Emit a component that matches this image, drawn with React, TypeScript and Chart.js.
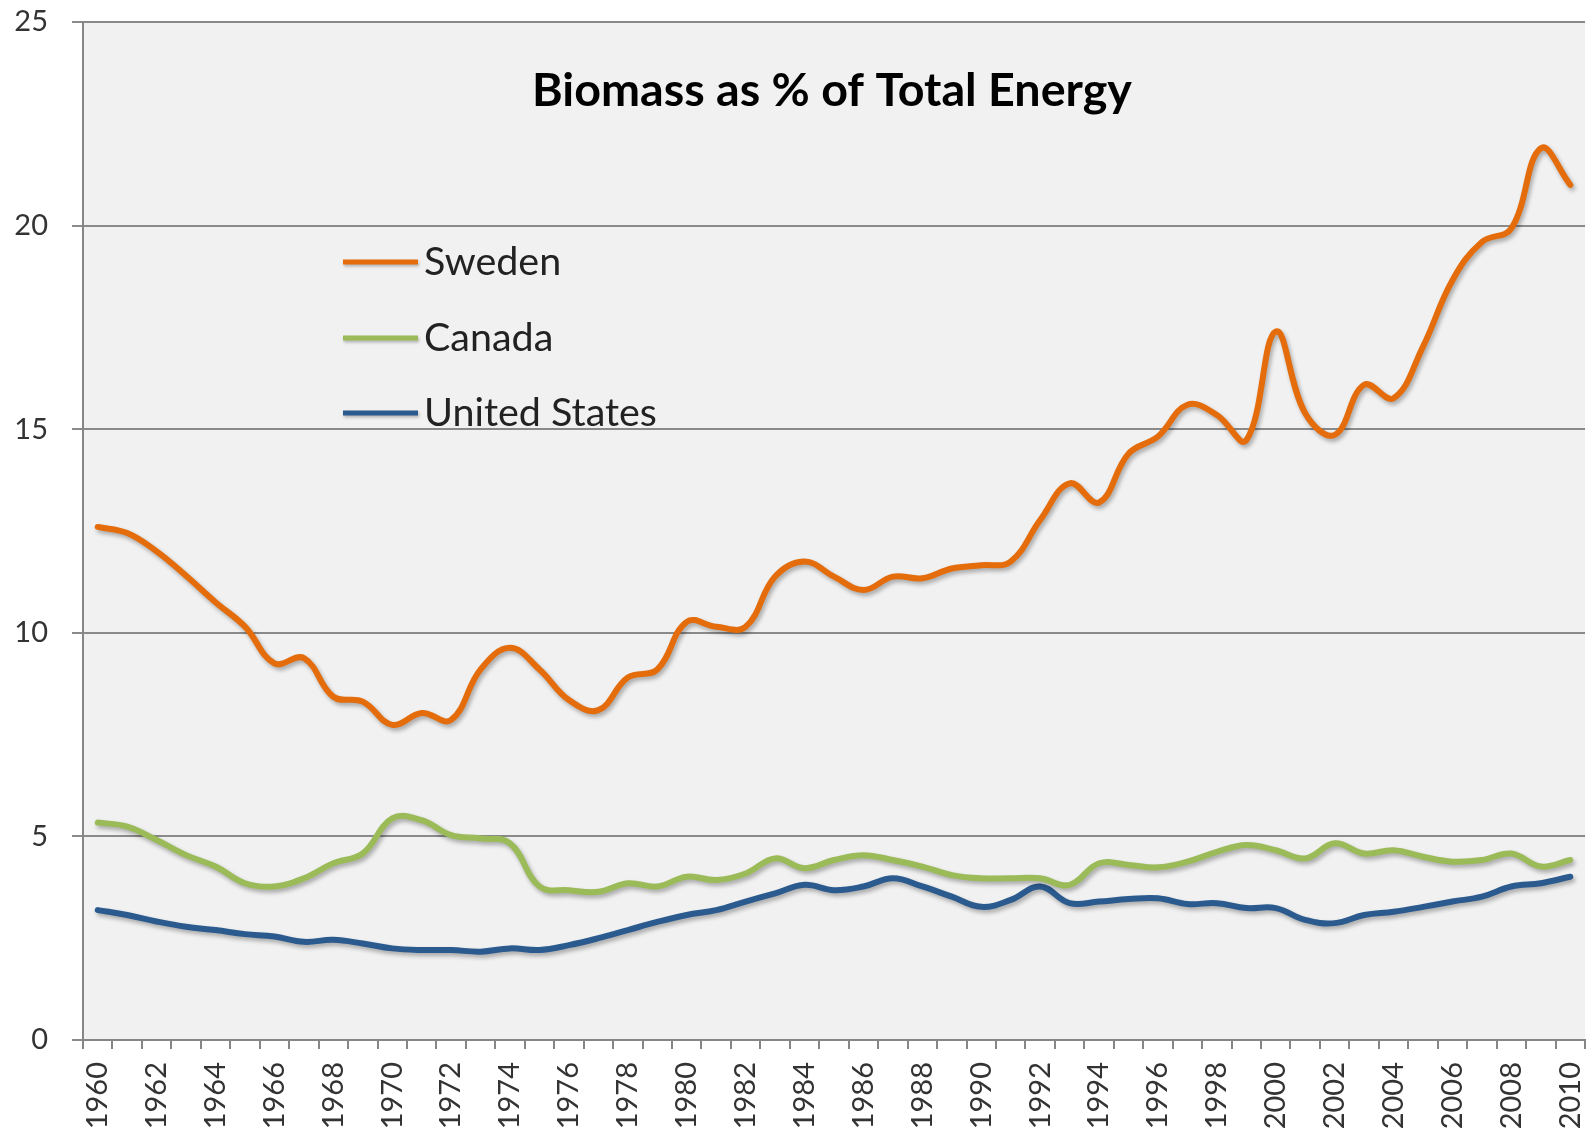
import React, { useEffect, useRef } from 'react';
import { Chart, registerables } from 'chart.js';

Chart.register(...registerables);

const years = [
  '1960', '1961', '1962', '1963', '1964', '1965', '1966', '1967', '1968', '1969',
  '1970', '1971', '1972', '1973', '1974', '1975', '1976', '1977', '1978', '1979',
  '1980', '1981', '1982', '1983', '1984', '1985', '1986', '1987', '1988', '1989',
  '1990', '1991', '1992', '1993', '1994', '1995', '1996', '1997', '1998', '1999',
  '2000', '2001', '2002', '2003', '2004', '2005', '2006', '2007', '2008', '2009',
  '2010',
];

const labelledYears = [
  '1960', '1962', '1964', '1966', '1968', '1970', '1972', '1974', '1976', '1978',
  '1980', '1982', '1984', '1986', '1988', '1990', '1992', '1994', '1996', '1998',
  '2000', '2002', '2004', '2006', '2008', '2010',
];

const sweden = [
  12.6, 12.45, 12.0, 11.4, 10.75, 10.15, 9.25, 9.38, 8.43, 8.31,
  7.74, 8.03, 7.86, 9.1, 9.63, 9.1, 8.35, 8.1, 8.9, 9.1,
  10.27, 10.15, 10.15, 11.38, 11.75, 11.38, 11.05, 11.38, 11.34, 11.58,
  11.66, 11.75, 12.77, 13.67, 13.2, 14.4, 14.82, 15.6, 15.35, 14.73,
  17.4, 15.39, 14.86, 16.09, 15.76, 17.03, 18.66, 19.6, 19.93, 21.9,
  21.0,
];

const canada = [
  5.34, 5.24, 4.91, 4.54, 4.26, 3.85, 3.77, 3.97, 4.34, 4.58,
  5.44, 5.4, 5.03, 4.95, 4.83, 3.77, 3.68, 3.64, 3.85, 3.77,
  4.01, 3.93, 4.09, 4.46, 4.22, 4.42, 4.54, 4.42, 4.26, 4.05,
  3.97, 3.97, 3.97, 3.81, 4.34, 4.3, 4.24, 4.38, 4.62, 4.79,
  4.66, 4.46, 4.83, 4.58, 4.66, 4.5, 4.38, 4.42, 4.58, 4.26,
  4.42,
];

const unitedStates = [
  3.19, 3.07, 2.91, 2.78, 2.7, 2.6, 2.54, 2.41, 2.46, 2.37,
  2.25, 2.21, 2.21, 2.17, 2.25, 2.21, 2.33, 2.5, 2.7, 2.9,
  3.07, 3.19, 3.4, 3.6, 3.81, 3.68, 3.77, 3.97, 3.77, 3.52,
  3.27, 3.44, 3.77, 3.36, 3.4, 3.46, 3.48, 3.34, 3.36, 3.24,
  3.24, 2.95, 2.87, 3.07, 3.15, 3.27, 3.4, 3.52, 3.77, 3.85,
  4.01,
];

const seriesNames = ['Sweden', 'Canada', 'United States'];
const seriesColors = ['#E46C0A', '#9BBB59', '#2B5A8E'];
const titleText = 'Biomass as % of Total Energy';

export default function App() {
  const ref = useRef<HTMLCanvasElement | null>(null);

  useEffect(() => {
    document.body.style.margin = '0';
    const canvas = ref.current;
    if (!canvas) return;

    const bgPlugin = {
      id: 'bg',
      beforeDraw(chart: any) {
        const { ctx, chartArea: a } = chart;
        ctx.save();
        ctx.fillStyle = '#ffffff';
        ctx.fillRect(0, 0, chart.width, chart.height);
        ctx.fillStyle = '#f1f1f1';
        ctx.fillRect(a.left, a.top, a.right - a.left, a.bottom - a.top);
        ctx.restore();
      },
    };

    const shadowPlugin = {
      id: 'lineShadow',
      beforeDatasetDraw(chart: any) {
        const c = chart.ctx;
        c.save();
        c.shadowColor = 'rgba(0,0,0,0.3)';
        c.shadowBlur = 4;
        c.shadowOffsetX = 2;
        c.shadowOffsetY = 3;
      },
      afterDatasetDraw(chart: any) {
        chart.ctx.restore();
      },
    };

    const overlayPlugin = {
      id: 'overlay',
      afterDatasetsDraw(chart: any) {
        const ctx = chart.ctx;
        ctx.save();
        // title
        ctx.font = 'bold 40px Lato';
        const tw = ctx.measureText(titleText).width;
        const tSize = (40 * 600) / tw;
        ctx.font = `bold ${tSize}px Lato`;
        ctx.fillStyle = '#000000';
        ctx.textAlign = 'center';
        ctx.textBaseline = 'middle';
        ctx.fillText(titleText, 832, 91);

        // legend
        ctx.font = '32px Lato';
        const lw = ctx.measureText('United States').width;
        const lSize = (32 * 233) / lw;
        const rows = [262, 338, 413];
        seriesNames.forEach((name, i) => {
          const y = rows[i];
          ctx.save();
          ctx.shadowColor = 'rgba(0,0,0,0.25)';
          ctx.shadowBlur = 3;
          ctx.shadowOffsetX = 1;
          ctx.shadowOffsetY = 2;
          ctx.strokeStyle = seriesColors[i];
          ctx.lineWidth = 5;
          ctx.lineCap = 'butt';
          ctx.beginPath();
          ctx.moveTo(343, y);
          ctx.lineTo(418, y);
          ctx.stroke();
          ctx.restore();
          ctx.font = `${lSize}px Lato`;
          ctx.fillStyle = '#222222';
          ctx.textAlign = 'left';
          ctx.textBaseline = 'middle';
          ctx.fillText(name, 424, y);
        });
        ctx.restore();
      },
    };

    const chart = new Chart(canvas, {
      type: 'line',
      data: {
        labels: years,
        datasets: [
          { label: seriesNames[0], data: sweden, borderColor: seriesColors[0] },
          { label: seriesNames[1], data: canada, borderColor: seriesColors[1] },
          { label: seriesNames[2], data: unitedStates, borderColor: seriesColors[2] },
        ].map((d) => ({
          ...d,
          borderWidth: 6,
          pointRadius: 0,
          pointHoverRadius: 0,
          tension: 0.4,
          fill: false,
          borderCapStyle: 'round' as const,
          borderJoinStyle: 'round' as const,
        })),
      },
      options: {
        responsive: false,
        animation: false,
        layout: { padding: { top: 22, right: 8, left: 0, bottom: 0 } },
        plugins: {
          legend: { display: false },
          title: { display: false },
          tooltip: { enabled: false },
        },
        scales: {
          x: {
            type: 'category',
            offset: true,
            grid: {
              display: true,
              drawOnChartArea: false,
              drawTicks: true,
              tickLength: 9,
              color: '#868686',
              lineWidth: 2,
              offset: true,
            },
            border: { display: true, color: '#868686', width: 2 },
            ticks: {
              autoSkip: false,
              maxRotation: 90,
              minRotation: 90,
              padding: 13,
              color: '#333333',
              font: { family: 'Lato', size: 29 },
              callback: (_v: any, i: number) =>
                labelledYears.includes(years[i]) ? years[i] : '',
            },
            afterFit: (s: any) => {
              s.height = 98;
              s.paddingLeft = 0;
              s.paddingRight = 0;
            },
          },
          y: {
            min: 0,
            max: 25,
            ticks: {
              stepSize: 5,
              padding: 24,
              color: '#333333',
              font: { family: 'Lato', size: 29 },
            },
            grid: {
              color: '#8a8a8a',
              lineWidth: 2,
              tickLength: 11,
              drawTicks: true,
            },
            border: { display: true, color: '#868686', width: 2 },
            afterFit: (s: any) => {
              s.width = 83;
              s.paddingTop = 0;
              s.paddingBottom = 0;
            },
          },
        },
      },
      plugins: [bgPlugin, shadowPlugin, overlayPlugin],
    } as any);

    return () => chart.destroy();
  }, []);

  return (
    <div style={{ position: 'fixed', left: 0, top: 0, width: 1593, height: 1138, overflow: 'hidden' }}>
      <canvas ref={ref} width={1593} height={1138} style={{ display: 'block', width: 1593, height: 1138 }} />
    </div>
  );
}
